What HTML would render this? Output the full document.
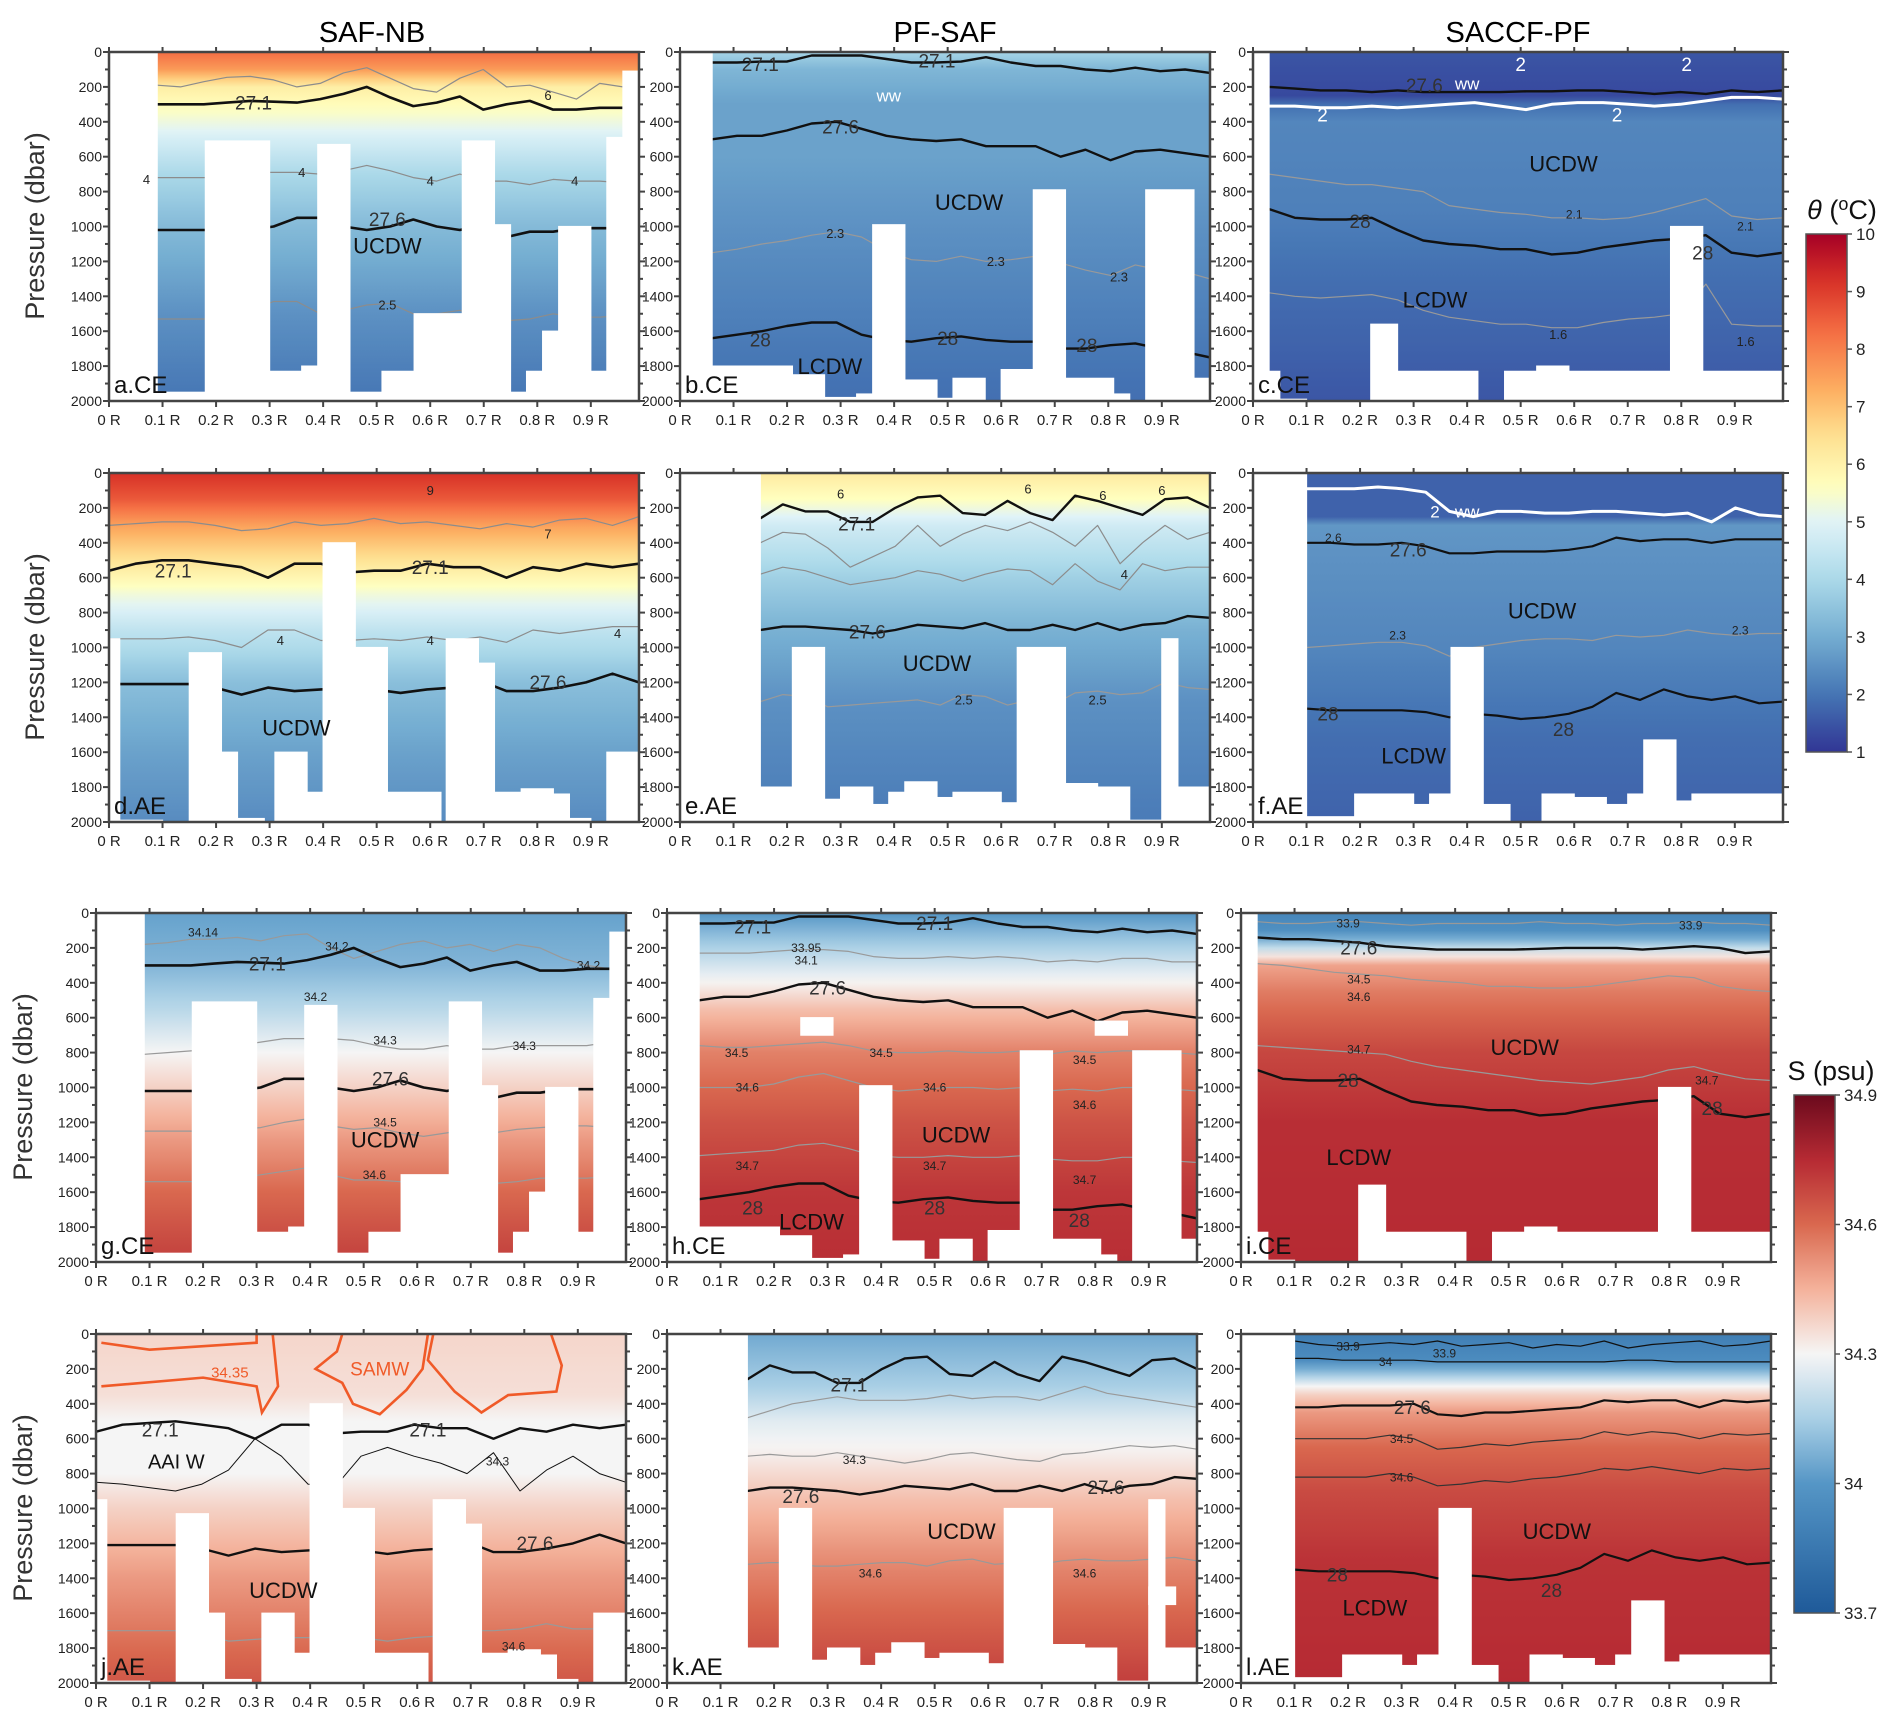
<!DOCTYPE html>
<html><head><meta charset="utf-8">
<style>
html,body{margin:0;padding:0;background:#fff;}
svg{display:block;font-family:"Liberation Sans",Arial,sans-serif;}
</style></head>
<body>
<svg id="fig" width="1892" height="1717" viewBox="0 0 1892 1717" xmlns="http://www.w3.org/2000/svg">
<text x="372" y="42" font-size="29" text-anchor="middle">SAF-NB</text>
<text x="945" y="42" font-size="29" text-anchor="middle">PF-SAF</text>
<text x="1518" y="42" font-size="29" text-anchor="middle">SACCF-PF</text>
</svg>
<script>
// ---------- data ----------
const tempStops=[[1,"#313695"],[2,"#4575b4"],[3,"#74add1"],[4,"#abd9e9"],[5,"#e0f3f8"],[5.6,"#ffffbf"],[6.5,"#fee090"],[7.3,"#fdae61"],[8.3,"#f46d43"],[9.2,"#d73027"],[10,"#a50026"]];
const salStops=[[33.7,"#1f5a99"],[34.0,"#5596c6"],[34.15,"#a9cfe5"],[34.3,"#f5f5f5"],[34.45,"#f4b29b"],[34.6,"#d9684f"],[34.75,"#b62a33"],[34.9,"#6b0a1d"]];
const yTicks=[0,200,400,600,800,1000,1200,1400,1600,1800,2000];
const xTicks=[0,0.1,0.2,0.3,0.4,0.5,0.6,0.7,0.8,0.9];
const xTickLabels=["0 R","0.1 R","0.2 R","0.3 R","0.4 R","0.5 R","0.6 R","0.7 R","0.8 R","0.9 R"];

const maskA=[[0,0.09,0,2000],[0.18,0.30,510,2000],[0.39,0.45,530,2000],[0.66,0.72,510,2000],[0.72,0.75,990,2000],[0.57,0.66,1500,2000],[0.84,0.90,1000,2000],[0.93,0.96,490,2000],[0.96,1,110,2000],[0.09,0.18,1950,2000],[0.30,0.36,1830,2000],[0.36,0.39,1800,2000],[0.45,0.51,1950,2000],[0.51,0.57,1830,2000],[0.75,0.78,1950,2000],[0.78,0.81,1830,2000],[0.81,0.84,1600,2000],[0.90,0.93,1830,2000]];
const maskB=[[0,0.06,0,2000],[0.06,0.15,1800,2000],[0.15,0.21,1800,2000],[0.21,0.27,1850,2000],[0.27,0.33,1980,2000],[0.33,0.36,1960,2000],[0.36,0.42,990,2000],[0.42,0.48,1880,2000],[0.48,0.51,1985,2000],[0.51,0.57,1870,2000],[0.6,0.66,1820,2000],[0.66,0.72,790,2000],[0.72,0.81,1870,2000],[0.81,0.84,1960,2000],[0.87,0.96,790,2000],[0.96,1,1870,2000]];
const maskC=[[0,0.03,0,2000],[0.03,0.05,1830,2000],[0.22,0.27,1560,2000],[0.27,0.42,1830,2000],[0.47,0.53,1830,2000],[0.53,0.59,1800,2000],[0.59,0.78,1830,2000],[0.78,0.84,1000,2000],[0.84,1,1830,2000],[0.05,0.1,1990,2000]];
const maskD=[[0,0.02,950,2000],[0.02,0.1,1990,2000],[0.15,0.21,1030,2000],[0.21,0.24,1600,2000],[0.24,0.29,1980,2000],[0.31,0.37,1600,2000],[0.37,0.40,1830,2000],[0.40,0.46,400,2000],[0.46,0.52,1000,2000],[0.52,0.62,1830,2000],[0.63,0.69,950,2000],[0.69,0.72,1090,2000],[0.72,0.77,1830,2000],[0.77,0.83,1810,2000],[0.83,0.86,1840,2000],[0.86,0.9,1980,2000],[0.93,1,1600,2000]];
const maskE=[[0,0.15,0,2000],[0.15,0.21,1800,2000],[0.21,0.27,1000,2000],[0.27,0.3,1870,2000],[0.3,0.36,1800,2000],[0.36,0.39,1900,2000],[0.39,0.42,1830,2000],[0.42,0.48,1770,2000],[0.48,0.51,1860,2000],[0.51,0.6,1830,2000],[0.6,0.63,1890,2000],[0.63,0.72,1000,2000],[0.72,0.78,1780,2000],[0.78,0.84,1800,2000],[0.9,0.93,950,2000],[0.84,0.9,1990,2000],[0.93,1,1800,2000]];
const maskF=[[0,0.1,0,2000],[0.1,0.19,1970,2000],[0.19,0.3,1840,2000],[0.3,0.33,1900,2000],[0.33,0.37,1840,2000],[0.37,0.43,1000,2000],[0.43,0.48,1900,2000],[0.54,0.6,1840,2000],[0.6,0.66,1860,2000],[0.66,0.7,1900,2000],[0.7,0.73,1840,2000],[0.73,0.79,1530,2000],[0.79,0.82,1880,2000],[0.82,1,1840,2000]];

const profA=[[0,8.3],[100,7.6],[200,6.1],[350,5.5],[500,4.8],[700,4.0],[1000,3.3],[1500,2.5],[2000,2.0]];
const profB=[[0,3.9],[100,3.2],[300,2.8],[600,2.8],[1000,2.5],[1500,2.2],[2000,1.9]];
const profC=[[0,1.5],[250,1.3],[300,1.9],[400,2.3],[900,2.2],[1300,1.9],[1700,1.7],[2000,1.5]];
const profD=[[0,9.2],[150,8.6],[300,7.5],[500,6.4],[700,5.3],[900,4.4],[1200,3.4],[1600,2.8],[2000,2.4]];
const profE=[[0,6.2],[150,5.6],[300,4.7],[600,3.8],[900,3.1],[1300,2.5],[2000,2.1]];
const profF=[[0,1.7],[250,1.7],[300,2.6],[500,2.5],[1000,2.3],[1500,1.9],[2000,1.7]];
const profG=[[0,34.03],[300,34.08],[550,34.18],[800,34.3],[1000,34.38],[1300,34.5],[1600,34.6],[2000,34.7]];
const profH=[[0,34.0],[150,34.12],[350,34.27],[550,34.42],[800,34.55],[1200,34.65],[1600,34.72],[2000,34.74]];
const profI=[[0,33.92],[120,33.98],[200,34.2],[300,34.48],[450,34.56],[800,34.68],[1200,34.74],[2000,34.75]];
const profJ=[[0,34.37],[350,34.35],[500,34.3],[800,34.3],[1000,34.38],[1400,34.5],[2000,34.64]];
const profK=[[0,34.05],[300,34.15],[500,34.26],[700,34.32],[950,34.42],[1300,34.53],[1700,34.63],[2000,34.7]];
const profL=[[0,33.88],[150,33.95],[220,34.1],[320,34.35],[450,34.5],[650,34.6],[900,34.67],[1300,34.73],[2000,34.75]];

const panels=[
 {id:"a",lab:"a.CE",col:0,row:0,cm:"T",prof:profA,mask:maskA,lines:[
  {x0:0.09,x1:0.96,c:"#8c8c8c",w:1.2,d:[190,200,170,145,140,160,200,180,120,90,150,210,230,150,100,200,190,230,270,180,200]},
  {x0:0.09,x1:0.96,c:"#111",w:2.6,d:[300,300,300,290,280,285,290,270,240,200,260,310,290,255,330,300,280,330,330,320,320]},
  {x0:0.09,x1:0.96,c:"#8c8c8c",w:1.2,d:[720,720,720,720,690,690,690,700,680,650,680,720,740,700,740,740,760,730,740,740,750]},
  {x0:0.09,x1:0.96,c:"#111",w:2.6,d:[1020,1020,1020,1020,1020,1000,950,950,1000,1020,1000,960,1000,1020,990,1060,1030,1030,1010,1010,1010]},
  {x0:0.09,x1:0.96,c:"#8c8c8c",w:1.2,d:[1530,1530,1530,1530,1480,1430,1430,1500,1480,1450,1440,1500,1500,1480,1530,1540,1530,1500,1520,1520,1510]}],
  txt:[[0.52,1110,"UCDW",22,"#111"],[0.27,290,"27.1",19,"#333"],[0.52,960,"27.6",19,"#333"],[0.07,730,"4",13,"#222"],[0.36,690,"4",13,"#222"],[0.6,740,"4",13,"#222"],[0.87,740,"4",13,"#222"],[0.52,1450,"2.5",13,"#222"],[0.82,250,"6",13,"#222"]]},
 {id:"b",lab:"b.CE",col:1,row:0,cm:"T",prof:profB,mask:maskB,lines:[
  {x0:0.06,x1:0.99,c:"#111",w:2.4,d:[60,60,55,55,20,20,20,40,60,60,55,30,60,80,80,100,110,90,110,100,120]},
  {x0:0.06,x1:0.99,c:"#111",w:2.4,d:[500,480,480,450,410,400,440,480,500,510,500,540,540,540,600,560,620,570,560,580,600]},
  {x0:0.06,x1:0.99,c:"#999",w:1.2,d:[1150,1130,1100,1080,1050,1030,1060,1140,1190,1200,1170,1200,1190,1170,1210,1250,1280,1220,1250,1260,1300]},
  {x0:0.06,x1:0.99,c:"#111",w:2.4,d:[1640,1620,1600,1570,1550,1550,1620,1650,1660,1640,1630,1650,1660,1660,1700,1700,1680,1670,1700,1720,1750]}],
  txt:[[0.54,860,"UCDW",22,"#111"],[0.28,1800,"LCDW",22,"#111"],[0.15,70,"27.1",19,"#333"],[0.48,50,"27.1",19,"#333"],[0.3,430,"27.6",19,"#333"],[0.15,1650,"28",19,"#333"],[0.5,1640,"28",19,"#333"],[0.76,1680,"28",19,"#333"],[0.29,1040,"2.3",13,"#222"],[0.59,1200,"2.3",13,"#222"],[0.82,1290,"2.3",13,"#222"],[0.39,250,"ww",17,"#fff"]]},
 {id:"c",lab:"c.CE",col:2,row:0,cm:"T",prof:profC,mask:maskC,lines:[
  {x0:0.03,x1:0.99,c:"#111",w:2.4,d:[200,210,220,220,230,220,230,230,230,230,225,225,220,220,230,240,230,240,220,230,220]},
  {x0:0.03,x1:0.99,c:"#fff",w:3,d:[310,310,320,320,310,320,310,300,290,310,330,300,290,290,300,310,300,280,260,260,270]},
  {x0:0.03,x1:0.99,c:"#999",w:1.2,d:[700,720,740,760,760,780,800,880,900,920,930,950,950,960,950,920,880,840,940,960,950]},
  {x0:0.03,x1:0.99,c:"#111",w:2.4,d:[900,950,960,960,950,1020,1080,1100,1110,1130,1130,1160,1150,1120,1100,1080,1070,1050,1150,1170,1150]},
  {x0:0.03,x1:0.99,c:"#999",w:1.2,d:[1380,1400,1410,1400,1390,1420,1480,1520,1540,1560,1560,1580,1580,1550,1530,1520,1500,1330,1560,1570,1570]}],
  txt:[[0.58,640,"UCDW",22,"#111"],[0.34,1420,"LCDW",22,"#111"],[0.2,970,"28",19,"#333"],[0.84,1150,"28",19,"#333"],[0.32,190,"27.6",19,"#333"],[0.4,180,"ww",17,"#fff"],[0.13,360,"2",19,"#fff"],[0.68,360,"2",19,"#fff"],[0.5,70,"2",19,"#fff"],[0.81,70,"2",19,"#fff"],[0.6,930,"2.1",12,"#222"],[0.92,1000,"2.1",12,"#222"],[0.57,1620,"1.6",13,"#222"],[0.92,1660,"1.6",13,"#222"]]},
 {id:"d",lab:"d.AE",col:0,row:1,cm:"T",prof:profD,mask:maskD,lines:[
  {x0:0,x1:0.99,c:"#8c8c8c",w:1.2,d:[300,290,280,280,300,330,320,280,300,290,260,290,280,300,320,290,310,270,260,300,250]},
  {x0:0,x1:0.99,c:"#111",w:2.6,d:[560,520,500,500,520,540,600,520,520,570,560,560,520,540,540,600,540,560,520,540,520]},
  {x0:0,x1:0.99,c:"#8c8c8c",w:1.2,d:[950,950,950,940,960,1000,900,900,960,960,950,960,940,960,940,970,900,920,900,880,880]},
  {x0:0,x1:0.99,c:"#111",w:2.6,d:[1210,1210,1210,1210,1230,1270,1230,1250,1240,1230,1240,1260,1240,1230,1190,1250,1250,1230,1200,1150,1200]}],
  txt:[[0.35,1460,"UCDW",22,"#111"],[0.12,560,"27.1",19,"#333"],[0.6,540,"27.1",19,"#333"],[0.82,1200,"27.6",19,"#333"],[0.32,960,"4",13,"#222"],[0.6,960,"4",13,"#222"],[0.95,920,"4",13,"#222"],[0.6,100,"9",13,"#222"],[0.82,350,"7",13,"#222"]]},
 {id:"e",lab:"e.AE",col:1,row:1,cm:"T",prof:profE,mask:maskE,lines:[
  {x0:0.15,x1:0.99,c:"#8c8c8c",w:1.2,d:[400,340,350,430,540,480,420,300,420,350,300,330,280,340,420,300,520,400,300,380,340]},
  {x0:0.15,x1:0.99,c:"#111",w:2.4,d:[260,180,220,220,280,280,200,140,130,230,240,160,230,270,130,160,200,240,150,140,200]},
  {x0:0.15,x1:0.99,c:"#8c8c8c",w:1.2,d:[580,540,560,600,640,620,600,560,580,620,580,550,560,640,520,620,670,520,560,540,540]},
  {x0:0.15,x1:0.99,c:"#111",w:2.4,d:[900,880,880,890,900,920,900,870,880,890,860,900,900,870,900,860,900,870,860,820,830]},
  {x0:0.15,x1:0.99,c:"#999",w:1.2,d:[1310,1270,1280,1340,1330,1320,1310,1300,1330,1270,1280,1330,1300,1330,1260,1250,1270,1260,1200,1230,1240]}],
  txt:[[0.48,1090,"UCDW",22,"#111"],[0.33,290,"27.1",19,"#333"],[0.35,910,"27.6",19,"#333"],[0.53,1300,"2.5",13,"#222"],[0.78,1300,"2.5",13,"#222"],[0.3,120,"6",13,"#222"],[0.65,90,"6",13,"#222"],[0.79,130,"6",13,"#222"],[0.9,100,"6",13,"#222"],[0.83,580,"4",13,"#222"]]},
 {id:"f",lab:"f.AE",col:2,row:1,cm:"T",prof:profF,mask:maskF,lines:[
  {x0:0.1,x1:0.99,c:"#fff",w:3,d:[90,90,90,80,90,110,220,250,220,220,230,230,220,220,230,240,230,280,200,240,250]},
  {x0:0.1,x1:0.99,c:"#111",w:2.2,d:[400,400,410,410,400,420,460,460,450,450,450,440,420,370,390,380,380,400,380,380,380]},
  {x0:0.1,x1:0.99,c:"#999",w:1.2,d:[1000,990,980,970,970,990,1050,1000,980,960,950,950,960,930,940,930,900,920,930,920,920]},
  {x0:0.1,x1:0.99,c:"#111",w:2.2,d:[1350,1360,1360,1360,1360,1370,1400,1380,1390,1410,1400,1380,1340,1260,1300,1240,1280,1300,1280,1320,1310]}],
  txt:[[0.54,790,"UCDW",22,"#111"],[0.3,1620,"LCDW",22,"#111"],[0.29,440,"27.6",19,"#333"],[0.14,1380,"28",19,"#333"],[0.58,1470,"28",19,"#333"],[0.4,220,"ww",17,"#fff"],[0.34,220,"2",17,"#fff"],[0.15,370,"2.6",12,"#222"],[0.27,930,"2.3",12,"#222"],[0.91,900,"2.3",12,"#222"]]},
 {id:"g",lab:"g.CE",col:0,row:2,cm:"S",prof:profG,mask:maskA,lines:[
  {x0:0.09,x1:0.96,c:"#999",w:1.2,d:[180,170,150,150,140,160,130,120,200,260,220,180,160,200,180,220,180,200,260,300,320]},
  {x0:0.09,x1:0.96,c:"#111",w:2.6,d:[300,300,300,290,280,285,290,270,240,200,260,310,290,255,330,300,280,330,330,320,320]},
  {x0:0.09,x1:0.96,c:"#999",w:1.2,d:[810,800,790,780,760,740,720,720,720,730,760,780,780,760,780,780,760,760,760,760,740]},
  {x0:0.09,x1:0.96,c:"#111",w:2.6,d:[1020,1020,1020,1020,1020,1000,950,950,1000,1020,1000,960,1000,1020,990,1060,1030,1030,1010,1010,1010]},
  {x0:0.09,x1:0.96,c:"#999",w:1.2,d:[1250,1250,1250,1250,1240,1230,1200,1180,1220,1240,1230,1260,1280,1260,1240,1260,1240,1230,1220,1220,1230]},
  {x0:0.09,x1:0.96,c:"#999",w:1.2,d:[1540,1540,1540,1530,1520,1500,1480,1460,1500,1530,1530,1540,1540,1520,1540,1550,1540,1520,1520,1520,1510]}],
  txt:[[0.54,1300,"UCDW",22,"#111"],[0.32,290,"27.1",19,"#333"],[0.55,950,"27.6",19,"#333"],[0.2,110,"34.14",12,"#222"],[0.45,190,"34.2",12,"#222"],[0.41,480,"34.2",12,"#222"],[0.54,730,"34.3",12,"#222"],[0.8,760,"34.3",12,"#222"],[0.54,1200,"34.5",12,"#222"],[0.52,1500,"34.6",12,"#222"],[0.92,300,"34.2",12,"#222"]]},
 {id:"h",lab:"h.CE",col:1,row:2,cm:"S",prof:profH,mask:maskB.concat([[0.25,0.31,600,700],[0.8,0.86,620,700]]),lines:[
  {x0:0.06,x1:0.99,c:"#111",w:2.4,d:[60,60,55,55,20,20,20,40,60,60,55,30,60,80,80,100,110,90,110,100,120]},
  {x0:0.06,x1:0.99,c:"#999",w:1.2,d:[230,230,230,220,210,210,220,250,260,260,250,260,250,260,280,270,280,260,260,280,280]},
  {x0:0.06,x1:0.99,c:"#111",w:2.4,d:[500,480,480,450,410,400,440,480,500,510,500,540,540,540,600,560,620,570,560,580,600]},
  {x0:0.06,x1:0.99,c:"#999",w:1.2,d:[760,770,770,760,750,740,760,790,800,800,790,800,800,790,810,790,800,790,790,800,810]},
  {x0:0.06,x1:0.99,c:"#999",w:1.2,d:[1000,1000,1000,980,940,920,960,1000,1020,1010,1000,1000,1010,1000,1020,1010,1020,1000,1000,1010,1020]},
  {x0:0.06,x1:0.99,c:"#999",w:1.2,d:[1390,1380,1370,1360,1330,1320,1350,1390,1400,1400,1390,1400,1400,1390,1410,1420,1420,1400,1400,1420,1430]},
  {x0:0.06,x1:0.99,c:"#111",w:2.4,d:[1640,1620,1600,1570,1550,1550,1620,1650,1660,1640,1630,1650,1660,1660,1700,1700,1680,1670,1700,1720,1750]}],
  txt:[[0.54,1270,"UCDW",22,"#111"],[0.27,1770,"LCDW",22,"#111"],[0.16,80,"27.1",19,"#333"],[0.5,60,"27.1",19,"#333"],[0.3,430,"27.6",19,"#333"],[0.16,1690,"28",19,"#333"],[0.5,1690,"28",19,"#333"],[0.77,1760,"28",19,"#333"],[0.26,200,"33.95",12,"#222"],[0.26,270,"34.1",12,"#222"],[0.13,800,"34.5",12,"#222"],[0.4,800,"34.5",12,"#222"],[0.78,840,"34.5",12,"#222"],[0.15,1000,"34.6",12,"#222"],[0.5,1000,"34.6",12,"#222"],[0.78,1100,"34.6",12,"#222"],[0.15,1450,"34.7",12,"#222"],[0.5,1450,"34.7",12,"#222"],[0.78,1530,"34.7",12,"#222"]]},
 {id:"i",lab:"i.CE",col:2,row:2,cm:"S",prof:profI,mask:maskC,lines:[
  {x0:0.03,x1:0.99,c:"#999",w:1.2,d:[50,60,60,50,50,60,70,60,60,60,60,50,60,60,70,60,60,50,60,60,70]},
  {x0:0.03,x1:0.99,c:"#111",w:2.4,d:[140,150,150,160,170,190,200,210,210,210,210,205,200,200,200,210,200,190,200,230,220]},
  {x0:0.03,x1:0.99,c:"#999",w:1.2,d:[290,300,320,340,350,360,380,390,400,420,420,430,430,420,400,380,360,370,420,440,450]},
  {x0:0.03,x1:0.99,c:"#999",w:1.2,d:[760,770,780,790,800,810,850,880,900,920,940,960,970,980,960,940,900,880,920,950,960]},
  {x0:0.03,x1:0.99,c:"#111",w:2.4,d:[900,950,960,960,950,1020,1080,1100,1110,1130,1130,1160,1150,1120,1100,1080,1070,1050,1150,1170,1150]}],
  txt:[[0.53,770,"UCDW",22,"#111"],[0.22,1400,"LCDW",22,"#111"],[0.22,200,"27.6",19,"#333"],[0.2,960,"28",19,"#333"],[0.88,1120,"28",19,"#333"],[0.2,60,"33.9",12,"#222"],[0.84,70,"33.9",12,"#222"],[0.22,380,"34.5",12,"#222"],[0.22,480,"34.6",12,"#222"],[0.22,780,"34.7",12,"#222"],[0.87,960,"34.7",12,"#222"]]},
 {id:"j",lab:"j.AE",col:0,row:3,cm:"S",prof:profJ,mask:maskD,lines:[
  {x0:0,x1:0.99,c:"#111",w:2.4,d:[560,520,510,500,520,540,600,520,520,570,560,560,520,540,540,600,540,560,520,540,520]},
  {x0:0,x1:0.99,c:"#111",w:1,d:[850,860,880,900,860,780,600,700,860,880,700,650,700,740,800,680,900,780,700,800,850]},
  {x0:0,x1:0.99,c:"#111",w:2.4,d:[1210,1210,1210,1210,1230,1270,1230,1250,1240,1230,1240,1260,1240,1230,1190,1250,1250,1230,1200,1150,1200]},
  {x0:0,x1:0.99,c:"#999",w:1.2,d:[1700,1700,1700,1700,1720,1760,1750,1740,1740,1730,1740,1760,1740,1730,1700,1700,1690,1660,1690,1690,1700]}],
  txt:[[0.35,1470,"UCDW",22,"#111"],[0.15,730,"AAI W",20,"#111"],[0.12,550,"27.1",19,"#333"],[0.62,550,"27.1",19,"#333"],[0.82,1200,"27.6",19,"#333"],[0.75,730,"34.3",12,"#222"],[0.78,1790,"34.6",12,"#222"],[0.25,220,"34.35",15,"#f05a28"],[0.53,200,"SAMW",19,"#f05a28"]]},
 {id:"k",lab:"k.AE",col:1,row:3,cm:"S",prof:profK,mask:maskE.concat([[0.9,0.95,1450,1550]]),lines:[
  {x0:0.15,x1:0.99,c:"#111",w:2.4,d:[260,180,220,220,280,280,200,140,130,230,240,160,230,270,130,160,200,240,150,140,200]},
  {x0:0.15,x1:0.99,c:"#999",w:1.2,d:[480,440,400,380,360,380,380,380,370,350,370,360,360,380,340,300,340,360,380,400,420]},
  {x0:0.15,x1:0.99,c:"#999",w:1.2,d:[700,690,700,700,680,700,720,740,720,690,680,700,720,730,690,680,660,640,650,640,660]},
  {x0:0.15,x1:0.99,c:"#111",w:2.4,d:[900,880,880,890,900,920,900,870,880,890,860,900,900,870,900,860,900,870,860,820,830]},
  {x0:0.15,x1:0.99,c:"#999",w:1.2,d:[1320,1310,1310,1330,1330,1320,1310,1310,1330,1300,1290,1320,1310,1320,1300,1290,1300,1300,1290,1280,1300]}],
  txt:[[0.55,1130,"UCDW",22,"#111"],[0.34,290,"27.1",19,"#333"],[0.25,930,"27.6",19,"#333"],[0.82,880,"27.6",19,"#333"],[0.35,720,"34.3",12,"#222"],[0.38,1370,"34.6",12,"#222"],[0.78,1370,"34.6",12,"#222"]]},
 {id:"l",lab:"l.AE",col:2,row:3,cm:"S",prof:profL,mask:maskF,lines:[
  {x0:0.1,x1:0.99,c:"#111",w:1.2,d:[40,60,70,60,50,60,40,70,60,50,80,60,70,40,80,60,50,40,70,60,40]},
  {x0:0.1,x1:0.99,c:"#111",w:1.2,d:[140,140,150,150,150,150,160,160,160,160,160,160,160,160,150,150,160,160,160,160,160]},
  {x0:0.1,x1:0.99,c:"#111",w:2.2,d:[420,420,410,410,410,400,460,470,450,450,440,430,420,380,390,380,380,420,380,390,380]},
  {x0:0.1,x1:0.99,c:"#333",w:1.2,d:[600,600,600,600,580,600,660,650,630,640,620,610,600,560,580,560,570,600,570,580,570]},
  {x0:0.1,x1:0.99,c:"#333",w:1.2,d:[820,820,820,820,800,820,870,860,840,850,830,820,800,770,780,760,780,800,770,780,770]},
  {x0:0.1,x1:0.99,c:"#111",w:2.2,d:[1350,1360,1360,1360,1360,1370,1400,1380,1390,1410,1400,1380,1340,1260,1300,1240,1280,1300,1280,1320,1310]}],
  txt:[[0.59,1130,"UCDW",22,"#111"],[0.25,1570,"LCDW",22,"#111"],[0.32,420,"27.6",19,"#333"],[0.18,1380,"28",19,"#333"],[0.58,1470,"28",19,"#333"],[0.2,70,"33.9",12,"#222"],[0.38,110,"33.9",12,"#222"],[0.27,160,"34",12,"#222"],[0.3,600,"34.5",12,"#222"],[0.3,820,"34.6",12,"#222"]]}
];

// ---------- drawing ----------
const NS="http://www.w3.org/2000/svg";
const svg=document.getElementById("fig");
const colX=[[109,680,1253],[109,680,1253],[96,667,1241],[96,667,1241]];
const rowY=[52,473,913,1334];
const PW=530,PH=349,XMAX=0.99;
function mk(tag,attrs,parent){const e=document.createElementNS(NS,tag);for(const k in attrs)e.setAttribute(k,attrs[k]);(parent||svg).appendChild(e);return e;}
function hex(c){return [1,3,5].map(i=>parseInt(c.substr(i,2),16));}
function cmap(stops,v){if(v<=stops[0][0])return stops[0][1];for(let i=1;i<stops.length;i++){if(v<=stops[i][0]){const t=(v-stops[i-1][0])/(stops[i][0]-stops[i-1][0]);const a=hex(stops[i-1][1]),b=hex(stops[i][1]);return "rgb("+a.map((x,k)=>Math.round(x+(b[k]-x)*t)).join(",")+")";}}return stops[stops.length-1][1];}
function interp(prof,d){if(d<=prof[0][0])return prof[0][1];for(let i=1;i<prof.length;i++){if(d<=prof[i][0]){const t=(d-prof[i-1][0])/(prof[i][0]-prof[i-1][0]);return prof[i-1][1]+(prof[i][1]-prof[i-1][1])*t;}}return prof[prof.length-1][1];}
const defs=mk("defs",{});

panels.forEach(p=>{
  const X0=colX[p.row][p.col],Y0=rowY[p.row];
  const sx=v=>X0+v/XMAX*PW, sy=d=>Y0+d/2000*PH;
  const g=mk("g",{});
  
  
  const stops=p.cm==="T"?tempStops:salStops;
  const grad=mk("linearGradient",{id:"gr"+p.id,x1:0,y1:0,x2:0,y2:1},defs);
  for(let d=0;d<=2000;d+=50){mk("stop",{offset:d/2000,"stop-color":cmap(stops,interp(p.prof,d))},grad);}
  const fill=mk("rect",{x:X0,y:Y0,width:PW,height:PH,fill:"url(#gr"+p.id+")"},g);
  
  
  const clip=mk("clipPath",{id:"cl"+p.id},defs);mk("rect",{x:X0,y:Y0,width:PW,height:PH},clip);
  const lg=mk("g",{"clip-path":"url(#cl"+p.id+")"},g);
  p.lines.forEach((L,li)=>{
    const n=L.d.length;const pts=L.d.map((d,i)=>{const x=L.x0+(L.x1-L.x0)*i/(n-1);return sx(x).toFixed(1)+","+sy(d).toFixed(1);});
    if(L.x1>=0.95)pts.push(sx(XMAX).toFixed(1)+","+sy(L.d[n-1]).toFixed(1));
    const pl=mk("polyline",{points:pts.join(" "),fill:"none",stroke:L.c,"stroke-width":L.w,"stroke-linejoin":"round"},lg);
    
    
  });
  if(p.id==="j"){
    const s1=mk("path",{d:`M${sx(0.01)},${sy(50)} L${sx(0.1)},${sy(90)} L${sx(0.3)},${sy(50)} L${sx(0.3)},${sy(0)} M${sx(0.01)},${sy(300)} L${sx(0.2)},${sy(250)} L${sx(0.3)},${sy(300)} L${sx(0.31)},${sy(450)} L${sx(0.34)},${sy(300)} L${sx(0.33)},${sy(0)} M${sx(0.46)},${sy(0)} L${sx(0.45)},${sy(100)} L${sx(0.41)},${sy(200)} L${sx(0.46)},${sy(280)} L${sx(0.48)},${sy(400)} L${sx(0.53)},${sy(460)} L${sx(0.58)},${sy(320)} L${sx(0.61)},${sy(200)} L${sx(0.62)},${sy(0)} M${sx(0.63)},${sy(0)} L${sx(0.62)},${sy(150)} L${sx(0.67)},${sy(330)} L${sx(0.72)},${sy(450)} L${sx(0.77)},${sy(350)} L${sx(0.86)},${sy(330)} L${sx(0.87)},${sy(180)} L${sx(0.85)},${sy(0)}`,fill:"none",stroke:"#f05a28","stroke-width":2.6},lg);
    
    
  }
  p.mask.forEach(m=>{const r=mk("rect",{x:sx(m[0]),y:sy(m[2]),width:sx(Math.min(m[1],XMAX))-sx(m[0]),height:sy(m[3])-sy(m[2]),fill:"#fff",stroke:"#fff","stroke-width":1.2},g);
    
    });
  p.txt.forEach(t=>{const e=mk("text",{x:sx(t[0]),y:sy(t[1])+t[3]*0.35,"font-size":t[3],fill:t[4],"text-anchor":"middle"},g);e.textContent=t[2];
    
    });
  const fr=mk("rect",{x:X0,y:Y0,width:PW,height:PH,fill:"none",stroke:"#444","stroke-width":2.5},g);
  
  
  for(let d=0;d<=2000;d+=100){const y=sy(d);const L=d%200===0?6:4;
    mk("line",{x1:X0,y1:y,x2:X0-L,y2:y,stroke:"#444","stroke-width":2},g);
    mk("line",{x1:X0+PW,y1:y,x2:X0+PW+L,y2:y,stroke:"#444","stroke-width":2},g);}
  yTicks.forEach(d=>{const e=mk("text",{x:X0-7,y:sy(d)+5,"font-size":14,"text-anchor":"end",fill:"#222"},g);e.textContent=d;
    
    });
  xTicks.forEach((v,i)=>{const x=sx(v);
    mk("line",{x1:x,y1:Y0+PH,x2:x,y2:Y0+PH+6,stroke:"#444","stroke-width":2},g);
    mk("line",{x1:x,y1:Y0,x2:x,y2:Y0-5,stroke:"#444","stroke-width":2},g);
    const e=mk("text",{x:x,y:Y0+PH+24,"font-size":15,"text-anchor":"middle",fill:"#222"},g);e.textContent=xTickLabels[i];
    
    });
  const pl=mk("text",{x:X0+5,y:Y0+PH-8,"font-size":24,fill:"#111"},g);pl.textContent=p.lab;
  
  
});
[[44,226],[44,647],[32,1087],[32,1508]].forEach(([x,y])=>{const e=mk("text",{x:x,y:y,"font-size":27,fill:"#333","text-anchor":"middle",transform:`rotate(-90 ${x} ${y})`});e.textContent="Pressure (dbar)";
  
  });
function colorbar(x,y,w,h,stops,lo,hi,ticks,title,tx,ty,name){
  const id="cb"+name;const gr=mk("linearGradient",{id:id,x1:0,y1:1,x2:0,y2:0},defs);
  for(let i=0;i<=40;i++){const v=lo+(hi-lo)*i/40;mk("stop",{offset:i/40,"stop-color":cmap(stops,v)},gr);}
  const r=mk("rect",{x:x,y:y,width:w,height:h,fill:"url(#"+id+")",stroke:"#555","stroke-width":1.5});
  
  
  ticks.forEach(t=>{const yy=y+h-(t-lo)/(hi-lo)*h;mk("line",{x1:x+w,y1:yy,x2:x+w+5,y2:yy,stroke:"#555","stroke-width":1.5});
    const e=mk("text",{x:x+w+9,y:yy+6,"font-size":17,fill:"#222"});e.textContent=t;
    
    });
  const e=mk("text",{x:tx,y:ty,"font-size":27,fill:"#111","text-anchor":"middle"});e.innerHTML=title;
  
  
}
colorbar(1806,234,41,518,tempStops,1,10,[1,2,3,4,5,6,7,8,9,10],'<tspan font-style="italic">θ</tspan> (<tspan dy="-9" font-size="18">o</tspan><tspan dy="9">C)</tspan>',1842,219,"theta");
colorbar(1794,1095,41,518,salStops,33.7,34.9,[33.7,34,34.3,34.6,34.9],'S (psu)',1831,1080,"salinity");
</script>
</body></html>
